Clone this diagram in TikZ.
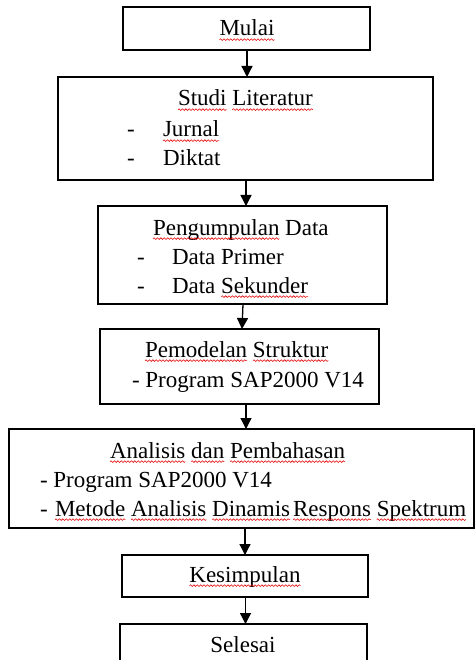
\documentclass[tikz,border=0pt]{standalone}
\usepackage{fontspec}
\setmainfont{Liberation Serif}
\usetikzlibrary{arrows.meta,calc,decorations.pathmorphing}
\newcommand\sqw[1]{\draw[squig] ([yshift=-3.6pt]#1.base west) -- ([yshift=-3.6pt]#1.base east);}
\begin{document}
\begin{tikzpicture}[x=1pt,y=-1pt,
  box/.style={draw=black, line width=1.4pt, inner sep=0pt, outer sep=0pt, fill=white},
  txt/.style={inner sep=0pt, outer sep=0pt, font=\fontsize{23}{29}\selectfont},
  wd/.style={txt, anchor=base west},
  squig/.style={draw=red!90!black, line width=0.55pt, decorate, decoration={snake, amplitude=0.85pt, segment length=3.4pt}},
  arr/.style={line width=1.3pt, -{Triangle[width=11pt,length=11pt]}}]
\useasboundingbox (0,0) rectangle (475,660);
\clip (0,0) rectangle (475,660);
\fill[white] (0,0) rectangle (475,660);
% boxes
\node[box, minimum width=247pt, minimum height=43pt] (mulai) at (246.5,28.5) {};
\node[box, minimum width=375pt, minimum height=103pt] (studi) at (245.5,128.5) {};
\node[box, minimum width=289pt, minimum height=98pt] (peng) at (242.5,255) {};
\node[box, minimum width=279pt, minimum height=75pt] (pemod) at (239.5,366.5) {};
\node[box, minimum width=465pt, minimum height=99pt] (anal) at (241.5,478.5) {};
\node[box, minimum width=246pt, minimum height=42pt] (kes) at (245,576) {};
\node[box, minimum width=247pt, minimum height=56pt] (sel) at (243.5,652) {};
% texts
\node[txt, anchor=base] (tmulai) at (247,36) {Mulai};
\node[wd] (wstudi) at (178,106) {Studi};
\node[wd] (wlit) at ([xshift=5.75pt]wstudi.base east) {Literatur};
\node[wd] (d1) at (127,137) {-};
\node[wd] (tjurnal) at (163,137) {Jurnal};
\node[wd] (d2) at (127,166) {-};
\node[wd] (tdiktat) at (163,166) {Diktat};
\node[wd] (wpeng) at (153,235) {Pengumpulan};
\node[wd] (wdata) at ([xshift=5.75pt]wpeng.base east) {Data};
\node[wd] (d3) at (137,264) {-};
\node[wd] (tprimer) at (172,264) {Data Primer};
\node[wd] (d4) at (137,293) {-};
\node[wd] (wdata2) at (172,293) {Data};
\node[wd] (wsek) at ([xshift=5.75pt]wdata2.base east) {Sekunder};
\node[wd] (wpemod) at (145,357) {Pemodelan};
\node[wd] (wstruk) at ([xshift=5.75pt]wpemod.base east) {Struktur};
\node[wd] (tprog1) at (132,387) {- Program SAP2000 V14};
\node[wd] (wanal) at (110,458) {Analisis};
\node[wd] (wdan) at ([xshift=5.75pt]wanal.base east) {dan};
\node[wd] (wpemb) at ([xshift=5.75pt]wdan.base east) {Pembahasan};
\node[wd] (tprog2) at (40,487) {- Program SAP2000 V14};
\node[wd] (d5) at (40,516) {-};
\node[wd] (wmet) at (55,516) {Metode};
\node[wd] (wanal2) at ([xshift=5.75pt]wmet.base east) {Analisis};
\node[wd] (wdin) at ([xshift=5.75pt]wanal2.base east) {Dinamis};
\node[wd] (wresp) at ([xshift=3pt]wdin.base east) {Respons};
\node[wd] (wspek) at ([xshift=5.75pt]wresp.base east) {Spektrum};
\node[txt, anchor=base] (tkes) at (245,582) {Kesimpulan};
\node[txt, anchor=base] (tsel) at (243,652) {Selesai};
% spell-check underlines
\sqw{tmulai}\sqw{wstudi}\sqw{wlit}\sqw{tjurnal}\sqw{wpeng}\sqw{wsek}
\sqw{wpemod}\sqw{wstruk}\sqw{wanal}\sqw{wdan}\sqw{wpemb}
\sqw{wmet}\sqw{wanal2}\sqw{wdin}\sqw{wresp}\sqw{wspek}\sqw{tkes}
% arrows
\draw[arr] ([xshift=0.5pt]mulai.south) -- ([xshift=0.5pt]mulai.south |- studi.north);
\draw[arr] ([xshift=0.5pt]studi.south) -- ([xshift=0.5pt]studi.south |- peng.north);
\draw[arr] ([xshift=0.5pt]peng.south) -- ([xshift=2.5pt]pemod.north);
\draw[arr] ([xshift=6.5pt]pemod.south) -- ([xshift=6.5pt]pemod.south |- anal.north);
\draw[arr] (anal.south -| kes.north) -- (kes.north);
\draw[arr] ([xshift=0.5pt]kes.south) -- ([xshift=0.5pt]kes.south |- sel.north);
\end{tikzpicture}
\end{document}
